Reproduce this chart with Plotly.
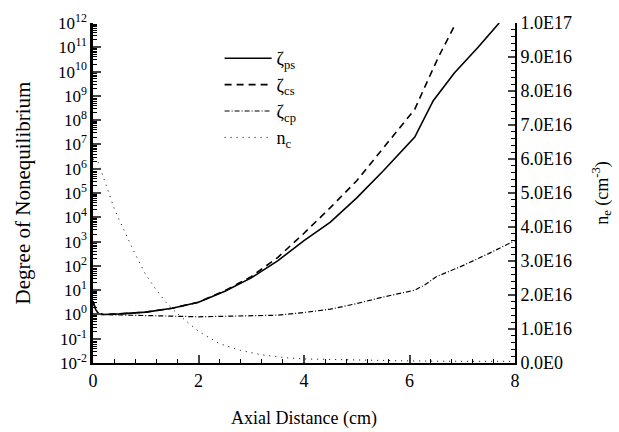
import numpy as np
import plotly.graph_objects as go

# ---- data ----
x_ps = [0.0, 0.05, 0.1, 0.2, 0.5, 1.0, 1.5, 2.0, 2.5, 3.0, 3.5, 4.0, 4.5, 5.0, 5.5, 6.1, 6.45, 6.85, 7.3, 7.7]
zeta_ps = [3.5, 1.6, 1.1, 1.0, 1.05, 1.25, 1.8, 3.2, 9.0, 32, 160, 1.1e3, 6.3e3, 6.3e4, 8.0e5, 2.0e7, 6.3e8, 8.7e9, 1.0e11, 1.0e12]

x_cs = [0.0, 0.05, 0.1, 0.2, 0.5, 1.0, 1.5, 2.0, 2.5, 3.0, 3.5, 4.0, 4.5, 5.0, 5.5, 6.1, 6.35, 6.55, 6.88]
zeta_cs = [3.5, 1.6, 1.1, 1.0, 1.05, 1.25, 1.8, 3.2, 9.5, 36, 2.2e2, 2.2e3, 2.5e4, 3.2e5, 7.0e6, 2.8e8, 4.5e9, 4.0e10, 1.0e12]

x_cp = [0.1, 0.5, 1.0, 2.0, 3.0, 3.5, 4.0, 4.5, 5.0, 5.5, 6.1, 6.3, 6.5, 7.0, 7.5, 8.0]
zeta_cp = [1.0, 0.93, 0.9, 0.8, 0.85, 0.93, 1.2, 1.65, 2.8, 5.2, 10, 17, 35, 100, 3.2e2, 1.1e3]

x_ne = [0.0, 0.1, 0.2, 0.3, 0.4, 0.5, 0.6, 0.7, 0.8, 0.9, 1.0, 1.2, 1.4, 1.6, 1.8, 2.0,
        2.4, 2.8, 3.2, 3.7, 4.0, 5.0, 6.0, 7.0, 8.0]
n_e = [6.0e16, 5.9e16, 5.45e16, 5.0e16, 4.55e16, 4.2e16, 3.85e16, 3.5e16, 3.2e16, 2.9e16,
       2.6e16, 2.15e16, 1.75e16, 1.45e16, 1.18e16, 0.93e16, 0.57e16, 0.37e16, 0.24e16,
       0.15e16, 0.12e16, 0.08e16, 0.06e16, 0.05e16, 0.05e16]

y_tickvals = [1e-2, 1e-1, 1e0, 1e1, 1e2, 1e3, 1e4, 1e5, 1e6, 1e7, 1e8, 1e9, 1e10, 1e11, 1e12]
y_ticktext = ["10<sup>-2</sup>", "10<sup>-1</sup>", "10<sup>0</sup>", "10<sup>1</sup>", "10<sup>2</sup>",
              "10<sup>3</sup>", "10<sup>4</sup>", "10<sup>5</sup>", "10<sup>6</sup>", "10<sup>7</sup>",
              "10<sup>8</sup>", "10<sup>9</sup>", "10<sup>10</sup>", "10<sup>11</sup>", "10<sup>12</sup>"]
y2_tickvals = [0, 1e16, 2e16, 3e16, 4e16, 5e16, 6e16, 7e16, 8e16, 9e16, 1e17]
y2_ticktext = ["0.0E0", "1.0E16", "2.0E16", "3.0E16", "4.0E16", "5.0E16", "6.0E16",
               "7.0E16", "8.0E16", "9.0E16", "1.0E17"]
x_tickvals = [0, 2, 4, 6, 8]

FONT = "Liberation Serif"

# minor tick positions for log axis (2..9 within each decade)
log_minor = [k * 10.0 ** e for e in range(-2, 12) for k in range(2, 10)]

fig = go.Figure()
fig.add_trace(go.Scatter(x=x_ps, y=zeta_ps, mode="lines", name="ζ<sub>ps</sub>",
                         line=dict(color="black", width=1.6, dash="solid")))
fig.add_trace(go.Scatter(x=x_cs, y=zeta_cs, mode="lines", name="ζ<sub>cs</sub>",
                         line=dict(color="black", width=1.6, dash="7px,5px")))
fig.add_trace(go.Scatter(x=x_cp, y=zeta_cp, mode="lines", name="ζ<sub>cp</sub>",
                         line=dict(color="black", width=1.2, dash="5px,2px,1px,2px")))
fig.add_trace(go.Scatter(x=x_ne, y=n_e, mode="lines", name="n<sub>c</sub>", yaxis="y2",
                         line=dict(color="black", width=1, dash="1px,5px")))

fig.update_layout(
    width=619, height=432,
    margin=dict(l=93, r=104, t=23, b=69, autoexpand=False),
    paper_bgcolor="white", plot_bgcolor="white",
    font=dict(family=FONT, size=18, color="black"),
    showlegend=True,
    legend=dict(x=0.30, y=0.95, xanchor="left", yanchor="top",
                bgcolor="rgba(0,0,0,0)", font=dict(family=FONT, size=18),
                itemwidth=47, tracegroupgap=0),
    xaxis=dict(range=[0, 8], tickvals=x_tickvals, ticks="inside", ticklen=8, tickwidth=1.5,
               showline=True, linecolor="black", linewidth=2, mirror=False,
               showgrid=False, zeroline=False, automargin=False,
               minor=dict(dtick=0.4, ticks="inside", ticklen=4, tickcolor="black", tickwidth=1),
               tickfont=dict(family=FONT, size=18),
               title=dict(text="Axial Distance (cm)", font=dict(family=FONT, size=18), standoff=22)),
    yaxis=dict(type="log", range=[-2, 12], tickvals=y_tickvals, ticktext=y_ticktext,
               ticks="inside", ticklen=8, tickwidth=1.5,
               showline=True, linecolor="black", linewidth=2.5,
               showgrid=False, zeroline=False, automargin=False,
               minor=dict(tickvals=log_minor, ticks="inside", ticklen=4, tickcolor="black", tickwidth=1),
               tickfont=dict(family=FONT, size=17),
               title=dict(text="Degree of Nonequilibrium", font=dict(family=FONT, size=21), standoff=22)),
    yaxis2=dict(overlaying="y", side="right", range=[0, 1e17], tickvals=y2_tickvals,
                ticktext=y2_ticktext, ticks="inside", ticklen=7, tickwidth=1.5,
                showline=True, linecolor="black", linewidth=2,
                showgrid=False, zeroline=False, automargin=False,
                minor=dict(dtick=2e15, ticks="inside", ticklen=4, tickcolor="black", tickwidth=1),
                tickfont=dict(family=FONT, size=18),
                title=dict(text="n<sub>e</sub> (cm<sup>-3</sup>)", font=dict(family=FONT, size=18), standoff=24)),
)

fig.write_html("out.html")
